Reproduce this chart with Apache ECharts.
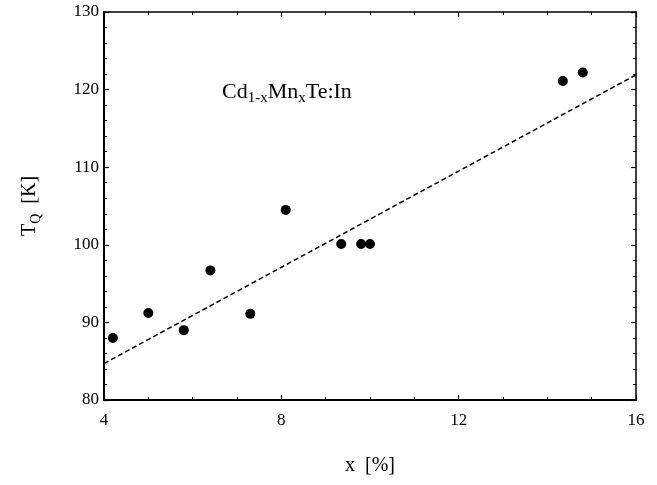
<!DOCTYPE html>
<html>
<head>
<meta charset="utf-8">
<script src="https://cdn.jsdelivr.net/npm/echarts@6/dist/echarts.min.js"></script>
<style>
  html, body { margin: 0; padding: 0; background: #fff; }
  #chart { width: 657px; height: 485px; }
</style>
</head>
<body>
<div id="chart"></div>
<script>
// measured points, x in %, T_Q in K
const xValues = [4.2, 5.0, 5.8, 6.4, 7.3, 8.1, 9.35, 9.8, 10.0, 14.35, 14.8];
const tqValues = [88.0, 91.2, 89.0, 96.7, 91.1, 104.5, 100.1, 100.1, 100.1, 121.1, 122.2];
// dashed fit line, end points
const fitX = [4, 16];
const fitY = [84.7, 121.9];

const points = xValues.map((x, i) => [x, tqValues[i]]);
const fitLine = fitX.map((x, i) => [x, fitY[i]]);

const serif = "'Liberation Serif', 'DejaVu Serif', serif";
const chart = echarts.init(document.getElementById("chart"));

const baseX = {
  type: "value",
  min: 4,
  max: 16,
  interval: 4,
  splitLine: { show: false },
  axisTick: { inside: true, length: 5, lineStyle: { color: "#000", width: 1.2 } },
  minorTick: { show: true, splitNumber: 4, length: 3, lineStyle: { color: "#000", width: 1 } },
};
const baseY = {
  type: "value",
  min: 80,
  max: 130,
  interval: 10,
  splitLine: { show: false },
  axisTick: { inside: true, length: 5, lineStyle: { color: "#000", width: 1.2 } },
  minorTick: { show: true, splitNumber: 5, length: 3, lineStyle: { color: "#000", width: 1 } },
};

const option = {
  backgroundColor: "#fff",
  animation: false,
  grid: { left: 104, top: 12, right: 21, bottom: 85 },
  xAxis: [
    {
      ...baseX,
      position: "bottom",
      axisLine: { lineStyle: { color: "#000", width: 2 } },
      axisLabel: { color: "#000", fontFamily: serif, fontSize: 17, margin: 12 },
      name: "x  [%]",
      nameLocation: "middle",
      nameGap: 56,
      nameTextStyle: { color: "#000", fontFamily: serif, fontSize: 20 },
    },
    {
      ...baseX,
      position: "top",
      axisLine: { lineStyle: { color: "#000", width: 1.5 } },
      axisLabel: { show: false },
    },
  ],
  yAxis: [
    {
      ...baseY,
      position: "left",
      axisLine: { lineStyle: { color: "#000", width: 2 } },
      axisLabel: { color: "#000", fontFamily: serif, fontSize: 17, margin: 5 },
      name: "{m|T}{s|Q}{m|  [K]}",
      nameLocation: "middle",
      nameGap: 61,
      nameTextStyle: {
        color: "#000",
        rich: {
          m: { fontFamily: serif, fontSize: 20, color: "#000", lineHeight: 26 },
          s: { fontFamily: serif, fontSize: 14, color: "#000", lineHeight: 26, padding: [12, 0, 0, 0] },
        },
      },
    },
    {
      ...baseY,
      position: "right",
      axisLine: { lineStyle: { color: "#000", width: 1.5 } },
      axisLabel: { show: false },
    },
  ],
  graphic: [
    {
      type: "text",
      left: 222,
      top: 78,
      style: {
        text: "{m|Cd}{s|1-x}{m|Mn}{s|x}{m|Te:In}",
        rich: {
          m: { fontFamily: serif, fontSize: 22, fill: "#000", lineHeight: 30 },
          s: { fontFamily: serif, fontSize: 15, fill: "#000", lineHeight: 30, padding: [13, 0, 0, 0] },
        },
      },
    },
  ],
  series: [
    {
      type: "line",
      data: fitLine,
      showSymbol: false,
      symbol: "none",
      lineStyle: { color: "#000", width: 1.5, type: [5, 3] },
      silent: true,
      z: 2,
    },
    {
      type: "scatter",
      data: points,
      symbol: "circle",
      symbolSize: 10,
      itemStyle: { color: "#000", opacity: 1 },
      z: 3,
    },
  ],
};

chart.setOption(option);
</script>
</body>
</html>
